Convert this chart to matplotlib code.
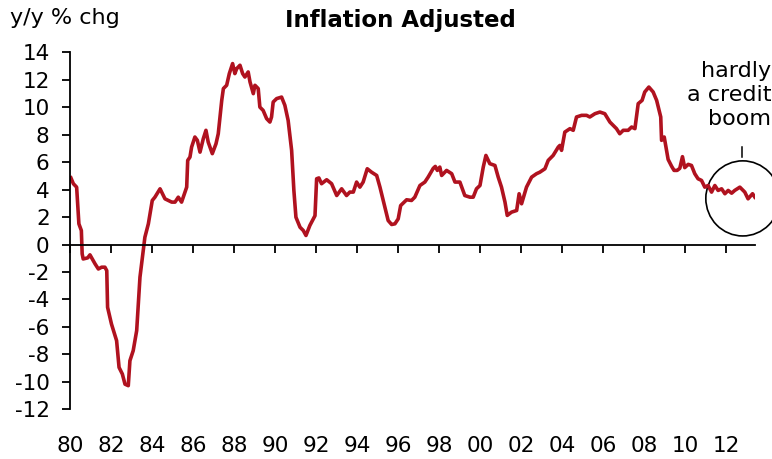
import matplotlib
matplotlib.use('Agg')
from matplotlib import pyplot as plt
from matplotlib.patches import Ellipse

years = [1980.02, 1980.14, 1980.30, 1980.41, 1980.53, 1980.57, 1980.62, 1980.84, 1980.95,
         1981.20, 1981.36, 1981.52, 1981.68, 1981.77, 1981.81, 1982.00, 1982.25, 1982.37,
         1982.53, 1982.66, 1982.82, 1982.90, 1983.06, 1983.23, 1983.39, 1983.63, 1983.80,
         1983.99, 1984.12, 1984.37, 1984.61, 1984.94, 1985.10, 1985.26, 1985.42, 1985.67,
         1985.72, 1985.83, 1985.91, 1986.07, 1986.19, 1986.32, 1986.48, 1986.61, 1986.72,
         1986.92, 1987.10, 1987.21, 1987.38, 1987.46, 1987.62, 1987.75, 1987.91, 1988.02,
         1988.11, 1988.27, 1988.40, 1988.51, 1988.67, 1988.76, 1988.92, 1989.00, 1989.16,
         1989.24, 1989.40, 1989.57, 1989.73, 1989.81, 1989.89, 1990.06, 1990.30, 1990.46,
         1990.62, 1990.79, 1990.90, 1991.00, 1991.20, 1991.36, 1991.49, 1991.68, 1991.93,
         1992.01, 1992.12, 1992.25, 1992.50, 1992.74, 1992.99, 1993.23, 1993.47, 1993.63,
         1993.80, 1993.96, 1994.12, 1994.28, 1994.48, 1994.69, 1994.94, 1995.10, 1995.34,
         1995.50, 1995.67, 1995.83, 1995.99, 1996.11, 1996.40, 1996.64, 1996.80, 1997.05,
         1997.29, 1997.45, 1997.70, 1997.80, 1997.90, 1998.02, 1998.11, 1998.35, 1998.60,
         1998.76, 1999.00, 1999.24, 1999.49, 1999.65, 1999.81, 1999.98, 2000.14, 2000.27,
         2000.46, 2000.71, 2000.87, 2001.03, 2001.20, 2001.31, 2001.52, 2001.77, 2001.89,
         2002.01, 2002.25, 2002.50, 2002.74, 2002.90, 2003.15, 2003.31, 2003.55, 2003.80,
         2003.88, 2003.96, 2004.12, 2004.37, 2004.53, 2004.69, 2004.94, 2005.18, 2005.34,
         2005.59, 2005.83, 2006.07, 2006.32, 2006.48, 2006.64, 2006.80, 2006.97, 2007.21,
         2007.38, 2007.54, 2007.70, 2007.89, 2008.02, 2008.22, 2008.43, 2008.60, 2008.80,
         2008.84, 2008.97, 2009.16, 2009.33, 2009.45, 2009.60, 2009.73, 2009.86, 2009.97,
         2010.14, 2010.30, 2010.46, 2010.62, 2010.79, 2010.95, 2011.11, 2011.28, 2011.44,
         2011.60, 2011.77, 2011.93, 2012.09, 2012.26, 2012.41, 2012.66, 2012.90, 2013.06,
         2013.28, 2013.39]
values = [4.86, 4.43, 4.18, 1.51, 1.02, -0.68, -1.05, -0.97, -0.75,
          -1.41, -1.78, -1.65, -1.65, -1.90, -4.57, -5.79, -7.00, -8.95,
          -9.43, -10.17, -10.28, -8.46, -7.73, -6.27, -2.38, 0.53, 1.51,
          3.21, 3.45, 4.06, 3.33, 3.09, 3.09, 3.45, 3.09, 4.18,
          6.13, 6.37, 7.10, 7.83, 7.59, 6.73, 7.71, 8.32, 7.46,
          6.62, 7.34, 8.07, 10.50, 11.36, 11.60, 12.45, 13.18, 12.45,
          12.81, 13.06, 12.45, 12.20, 12.57, 11.84, 10.99, 11.60, 11.36,
          10.01, 9.77, 9.17, 8.92, 9.29, 10.38, 10.63, 10.74, 10.14,
          9.04, 6.86, 3.94, 1.99, 1.26, 1.02, 0.66, 1.39, 2.10,
          4.79, 4.85, 4.43, 4.72, 4.43, 3.57, 4.06, 3.57, 3.82,
          3.82, 4.55, 4.18, 4.55, 5.52, 5.27, 5.03, 4.18, 2.72,
          1.75, 1.46, 1.51, 1.87, 2.84, 3.26, 3.21, 3.45, 4.30,
          4.55, 4.91, 5.55, 5.69, 5.40, 5.64, 5.03, 5.40, 5.16,
          4.55, 4.55, 3.57, 3.45, 3.45, 4.06, 4.30, 5.64, 6.49,
          5.89, 5.76, 4.91, 4.18, 3.09, 2.12, 2.36, 2.48, 3.70,
          2.97, 4.18, 4.91, 5.16, 5.27, 5.52, 6.13, 6.49, 7.10,
          7.22, 6.86, 8.19, 8.44, 8.32, 9.29, 9.41, 9.41, 9.29,
          9.53, 9.65, 9.53, 8.92, 8.68, 8.44, 8.07, 8.32, 8.32,
          8.56, 8.44, 10.26, 10.50, 11.11, 11.47, 11.11, 10.50, 9.29,
          7.59, 7.83, 6.20, 5.70, 5.40, 5.40, 5.55, 6.40, 5.60,
          5.84, 5.76, 5.16, 4.79, 4.67, 4.18, 4.30, 3.82, 4.30,
          3.94, 4.06, 3.70, 3.94, 3.74, 3.94, 4.18, 3.82, 3.33,
          3.70, 3.45]

xticks = list(range(1980, 2013, 2))
xlabels = ['%02d' % (y % 100) for y in xticks]
yticks = list(range(-12, 15, 2))

plt.rcParams['font.family'] = 'DejaVu Sans'

fig = plt.figure(figsize=(7.72, 4.59), dpi=100)
ax = fig.add_axes([0.0913, 0.1083, 0.8867, 0.7777])

ax.plot(years, values, color='#B0121F', lw=2.6, solid_joinstyle='round')

ax.set_xlim(1980, 2013.4)
ax.set_ylim(-12, 14)
ax.spines['top'].set_visible(False)
ax.spines['right'].set_visible(False)
ax.spines['bottom'].set_position(('data', 0))
for s in ['left', 'bottom']:
    ax.spines[s].set_linewidth(1.3)

ax.set_yticks(yticks)
ax.set_yticklabels([str(v) for v in yticks])
ax.set_xticks(xticks)
ax.set_xticklabels(xlabels)
ax.tick_params(axis='y', length=6, width=1.3, pad=9, labelsize=15.5)
ax.tick_params(axis='x', length=6, width=1.3, pad=132, labelsize=15.5)

fig.text(0.013, 0.96, 'y/y % chg', fontsize=16, va='center', ha='left')
fig.text(0.518, 0.955, 'Inflation Adjusted', fontsize=16.5, fontweight='bold',
         va='center', ha='center')

# annotation
fig.text(0.999, 0.793, 'hardly\na credit\nboom', fontsize=16, ha='right', va='center',
         linespacing=1.25)
ax.plot([2012.75, 2012.75], [6.35, 7.07], color='black', lw=1.1, clip_on=False)
ax.add_patch(Ellipse((2012.8, 3.36), 3.6, 5.47, fill=False, edgecolor='black', lw=1.2,
                     clip_on=False))

fig.savefig('out.png', dpi=100)
